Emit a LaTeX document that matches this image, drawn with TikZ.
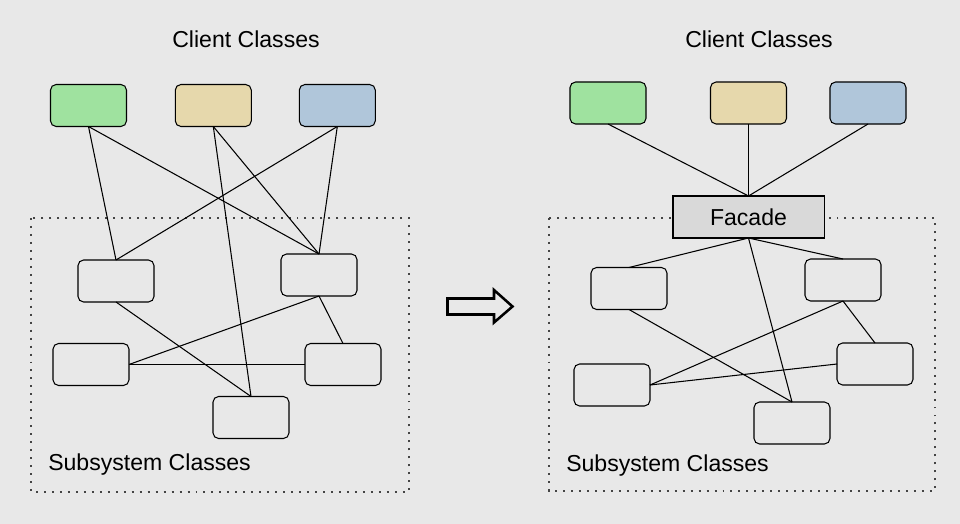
\documentclass[tikz,border=0pt]{standalone}
\usepackage{fontspec}
\setmainfont{Liberation Sans}
\usepackage{tikz}
\usetikzlibrary{arrows.meta,positioning,calc}
\usepackage{xcolor}
\definecolor{bgcol}{HTML}{E8E8E8}
\definecolor{cgreen}{HTML}{9FE29F}
\definecolor{cyellow}{HTML}{E6D8AC}
\definecolor{cblue}{HTML}{B0C6DA}
\definecolor{facadecol}{HTML}{D9D9D9}
\definecolor{dotcol}{HTML}{444444}

\begin{document}
\begin{tikzpicture}[
    x=0.025cm, y=-0.025cm,
    cls/.style={draw, rounded corners=4pt, minimum width=1.9cm, minimum height=1.05cm, inner sep=0pt, outer sep=0pt, line width=0.75pt},
    link/.style={line width=0.75pt},
    frame/.style={dotcol, line width=1.4pt, dash pattern=on 1.4pt off 4.27pt},
    title/.style={font=\fontsize{16.4}{19}\selectfont, inner sep=0pt}
]
\fill[bgcol] (0,0) rectangle (960,524);
\useasboundingbox (0,0) rectangle (960,524);

% left: clients talk to the subsystem directly
\draw[frame] (31,218) rectangle (409,492);
\node[title, anchor=base] (lclient) at (246,48) {Client Classes};
\node[title, anchor=base west] (lsub) at (48,470) {Subsystem Classes};

\node[cls, fill=cgreen] (lg) at (88.5,105.5) {};
\node[cls, fill=cyellow] (ly) at (213.3,105.5) {};
\node[cls, fill=cblue] (lb) at (337.3,105.5) {};

\node[cls] (la) at (116,281) {};
\node[cls] (lbb) at (319,275) {};
\node[cls] (lc) at (91,364.5) {};
\node[cls] (ld) at (343,364.5) {};
\node[cls] (le) at (251,417.5) {};

\draw[link] (lg.south) -- (la.north);
\draw[link] (lg.south) -- (lbb.north);
\draw[link] (ly.south) -- (lbb.north);
\draw[link] (ly.south) -- (le.north);
\draw[link] (lb.south) -- (la.north);
\draw[link] (lb.south) -- (lbb.north);
\draw[link] (la.south) -- (le.north);
\draw[link] (lbb.south) -- (lc.east);
\draw[link] (lbb.south) -- (ld.north);
\draw[link] (lc.east) -- (ld.west);

% arrow in the middle
\draw[line width=1.8pt, line join=miter] (447.5,298.5) -- (494,298.5) -- (494,290) -- (512.5,306.5)
    -- (494,322.5) -- (494,314.5) -- (447.5,314.5) -- cycle;

% right: everything goes through the facade
\draw[frame] (549,218) rectangle (935,491);
\node[title, anchor=base] (rclient) at (759,48) {Client Classes};
\node[title, anchor=base west] (rsub) at (566,471) {Subsystem Classes};

\node[cls, fill=cgreen] (rg) at (608,103) {};
\node[cls, fill=cyellow] (ry) at (748.5,103) {};
\node[cls, fill=cblue] (rb) at (868,103) {};

\node[draw, fill=facadecol, minimum width=3.775cm, minimum height=1.05cm, inner sep=0pt, outer sep=0pt,
    line width=0.75pt, font=\fontsize{16.4}{19}\selectfont] (facade) at (748.5,217) {Facade};

\node[cls] (ra) at (629,288.5) {};
\node[cls] (rbb) at (843,280) {};
\node[cls] (rc) at (612,385) {};
\node[cls] (rd) at (875,364) {};
\node[cls] (re) at (792,423) {};

\draw[link] (rg.south) -- (facade.north);
\draw[link] (ry.south) -- (facade.north);
\draw[link] (rb.south) -- (facade.north);
\draw[link] (facade.south) -- (ra.north);
\draw[link] (facade.south) -- (rbb.north);
\draw[link] (facade.south) -- (re.north);
\draw[link] (ra.south) -- (re.north);
\draw[link] (rbb.south) -- (rc.east);
\draw[link] (rbb.south) -- (rd.north);
\draw[link] (rc.east) -- (rd.west);
\end{tikzpicture}
\end{document}
